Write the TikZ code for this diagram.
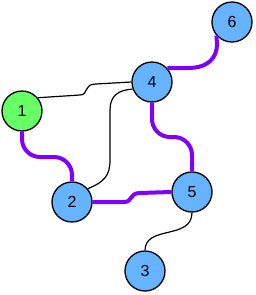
\documentclass[tikz,border=0pt]{standalone}
\usepackage{fontspec}
\setmainfont{Liberation Sans}
\usepackage{tikz}
\usetikzlibrary{calc}

\definecolor{nodeblue}{HTML}{66B3FF}
\definecolor{nodegreen}{HTML}{66FF66}
\definecolor{pathviolet}{HTML}{8000FF}

\tikzset{
  vertex/.style={circle,draw=black,line width=1.3pt,minimum size=40pt,inner sep=0pt,
    font=\fontsize{16}{18}\selectfont},
  bluevertex/.style={vertex,fill=nodeblue},
  greenvertex/.style={vertex,fill=nodegreen},
  thinedge/.style={line width=1.2pt,black},
  thickedge/.style={line width=4pt,pathviolet},
  bentedge/.style={thickedge,rounded corners=18pt}
}

\begin{document}
\begin{tikzpicture}[x=1pt,y=-1pt]
\useasboundingbox (0,0) rectangle (255,295);

\node[greenvertex] (n1) at (22,111) {1};
\node[bluevertex] (n2) at (72,202) {2};
\node[bluevertex] (n3) at (145,271) {3};
\node[bluevertex] (n4) at (152,82) {4};
\node[bluevertex] (n5) at (192,192) {5};
\node[bluevertex] (n6) at (232,22) {6};

% thick path edges
\draw[bentedge] (n1.south) -- (22,157) -- (72,157) -- (n2.north);
\draw[bentedge] (n4.south) -- (152,137) -- (192,137) -- (n5.north);
\draw[thickedge] (n2.east) -- (124,202) .. controls (133,202) and (129,193) .. (140,193) -- (n5.west);
\draw[thickedge] (n4.42) -- (188,68) .. controls (208,68) and (217,58) .. (217,44) -- (n6.221);

% thin edges
\draw[thinedge] (n1.40) -- (80,95) .. controls (89,95) and (83,84) .. (96,84) -- (n4.west);
\draw[thinedge] (n2.40) .. controls (104,182) and (110,176) .. (110,160) -- (110,110)
  .. controls (110,96) and (118,90) .. (n4.200);
\draw[thinedge] (n5.south) .. controls (192,240) and (145,225) .. (n3.north);
\end{tikzpicture}
\end{document}
